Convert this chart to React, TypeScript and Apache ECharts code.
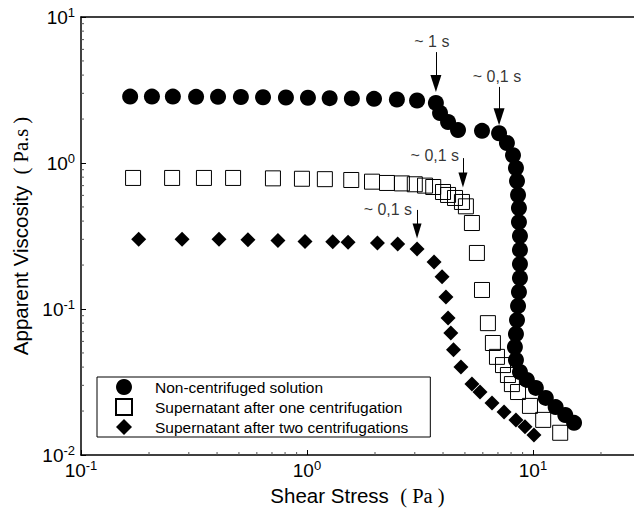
import React, { useEffect, useRef } from "react";
import * as echarts from "echarts";

const seriesNames = [
  "Non-centrifuged solution",
  "Supernatant after one centrifugation",
  "Supernatant after two centrifugations",
];

// [shear stress (Pa), apparent viscosity (Pa.s)]
const nonCentrifuged: number[][] = [
  [0.165, 2.85], [0.206, 2.85], [0.255, 2.85], [0.323, 2.84], [0.404, 2.84], [0.51, 2.83],
  [0.639, 2.82], [0.807, 2.81], [1.01, 2.8], [1.26, 2.78], [1.58, 2.77], [1.98, 2.75],
  [2.5, 2.72], [3.07, 2.68], [3.72, 2.58], [3.88, 2.2], [4.21, 1.91], [4.66, 1.68],
  [5.95, 1.66], [7.08, 1.6], [7.67, 1.37], [8.16, 1.13], [8.41, 0.924], [8.5, 0.753],
  [8.59, 0.604], [8.67, 0.492], [8.67, 0.394], [8.76, 0.316], [8.76, 0.254], [8.76, 0.203],
  [8.76, 0.163], [8.67, 0.131], [8.59, 0.105], [8.5, 0.084], [8.41, 0.0674], [8.32, 0.0549],
  [8.41, 0.0448], [8.76, 0.037], [9.4, 0.0327], [10.3, 0.0288], [11.4, 0.0246],
  [12.6, 0.0213], [13.9, 0.0188], [15.2, 0.0166],
];

const oneCentrifugation: number[][] = [
  [0.17, 0.79], [0.253, 0.79], [0.35, 0.79], [0.471, 0.79], [0.707, 0.785], [0.95, 0.78],
  [1.2, 0.775], [1.57, 0.765], [1.94, 0.745], [2.26, 0.73], [2.63, 0.725], [3.0, 0.715],
  [3.33, 0.7], [3.62, 0.685], [4.0, 0.633], [4.21, 0.604], [4.52, 0.576], [4.85, 0.541],
  [5.05, 0.505], [5.37, 0.388], [5.65, 0.242], [5.95, 0.135], [6.32, 0.08], [6.65, 0.0585],
  [6.93, 0.047], [7.37, 0.0413], [7.75, 0.0353], [8.07, 0.0306], [8.59, 0.027],
  [9.7, 0.0217], [11.1, 0.0174], [13.2, 0.0142],
];

const twoCentrifugations: number[][] = [
  [0.18, 0.3], [0.28, 0.3], [0.408, 0.3], [0.548, 0.298], [0.744, 0.295], [0.98, 0.29],
  [1.3, 0.289], [1.52, 0.287], [2.05, 0.283], [2.52, 0.279], [3.07, 0.258], [3.65, 0.21],
  [3.96, 0.166], [4.12, 0.121], [4.21, 0.0868], [4.33, 0.0685], [4.45, 0.0525],
  [4.8, 0.0401], [5.37, 0.0306], [5.83, 0.027], [6.59, 0.0227], [7.45, 0.0197],
  [8.41, 0.0174], [9.22, 0.0156], [10.1, 0.0137],
];

// annotation labels: [x, y, text]
const annotationLabels: [number, number, string][] = [
  [3.57, 6.75, "~ 1 s"],
  [6.93, 3.94, "~ 0,1 s"],
  [3.68, 1.12, "~ 0,1 s"],
  [2.28, 0.477, "~ 0,1 s"],
];
// arrows: [x, yStart, yHeadCentre]
const arrowsCircles: number[][] = [
  [3.72, 5.75, 3.5],
  [7.08, 3.32, 2.07],
];
const arrowsSquares: number[][] = [[4.9, 1.08, 0.766]];
const arrowsDiamonds: number[][] = [[3.07, 0.477, 0.342]];

const xMinor = [0.2, 0.3, 0.4, 0.5, 0.6, 0.7, 0.8, 0.9, 2, 3, 4, 5, 6, 7, 8, 9, 20];
const yMinor = [0.02, 0.03, 0.04, 0.05, 0.06, 0.07, 0.08, 0.09, 0.2, 0.3, 0.4, 0.5, 0.6, 0.7, 0.8, 0.9, 2, 3, 4, 5, 6, 7, 8, 9];

const X_MIN = 0.1;
const X_MAX = 28;
const Y_MIN = 0.01;
const Y_MAX = 10;

const SANS = "Liberation Sans, Arial, sans-serif";
const SERIF = "Liberation Serif, Times New Roman, serif";

function powLabel(v: number) {
  const l = Math.log10(v);
  if (Math.abs(l - Math.round(l)) > 1e-6) return "";
  return `{a|10}{b|${Math.round(l)}}`;
}

const labelRich = {
  a: { fontSize: 19, fontFamily: SANS, color: "#000" },
  b: { fontSize: 13, fontFamily: SANS, color: "#000", verticalAlign: "top", padding: [0, 0, 9, 0] },
};

function arrowLine(arr: number[][], big: boolean) {
  return {
    silent: true,
    symbol: ["none", "triangle"],
    symbolSize: big ? [11, 17] : [9, 15],
    lineStyle: { color: "#000", width: 1, type: "solid", opacity: 1 },
    itemStyle: { color: "#000", opacity: 1 },
    label: { show: false },
    emphasis: { disabled: true },
    data: arr.map((a) => [{ coord: [a[0], a[1]] }, { coord: [a[0], a[2]] }]),
  };
}

export default function App() {
  const ref = useRef<HTMLDivElement>(null);
  useEffect(() => {
    if (!ref.current) return;
    const chart = echarts.init(ref.current, undefined, { renderer: "svg" });
    const option: any = {
      animation: false,
      backgroundColor: "#fff",
      textStyle: { fontFamily: SANS },
      grid: { left: 81, right: 0, top: 17, bottom: 58, containLabel: false, outerBoundsMode: "none" },
      legend: {
        orient: "vertical",
        left: 97,
        top: 377,
        padding: [2, 22, 2, 18],
        itemGap: 3,
        itemWidth: 16,
        itemHeight: 16,
        borderColor: "#000",
        borderWidth: 1,
        borderRadius: 0,
        backgroundColor: "#fff",
        selectedMode: false,
        textStyle: { fontFamily: SANS, fontSize: 15.5, color: "#000", padding: [0, 0, 0, 18] },
        data: [
          { name: seriesNames[0], icon: "circle" },
          { name: seriesNames[1], icon: "rect" },
          { name: seriesNames[2], icon: "diamond" },
        ],
      },
      xAxis: [
        {
          type: "log",
          logBase: 10,
          min: X_MIN,
          max: X_MAX,
          name: "Shear Stress  {p|( Pa )}",
          nameLocation: "middle",
          nameGap: 30,
          nameTextStyle: {
            fontSize: 20.5,
            fontFamily: SANS,
            color: "#000",
            rich: { p: { fontSize: 20.5, fontFamily: SERIF, color: "#000" } },
          },
          axisLine: { show: true, lineStyle: { color: "#000", width: 1.5 } },
          axisTick: { show: true, inside: true, length: 5, lineStyle: { color: "#000" } },
          splitLine: { show: false },
          axisLabel: { formatter: powLabel, rich: labelRich, margin: 4, showMaxLabel: false },
        },
        {
          type: "log",
          logBase: 10,
          min: X_MIN,
          max: X_MAX,
          position: "top",
          axisLine: { show: true, onZero: false, lineStyle: { color: "#000", width: 1.5 } },
          axisTick: { show: false },
          axisLabel: { show: false },
          splitLine: { show: false },
        },
      ],
      yAxis: {
        type: "log",
        logBase: 10,
        min: Y_MIN,
        max: Y_MAX,
        name: "Apparent Viscosity  {p|( Pa.s )}",
        nameLocation: "middle",
        nameGap: 47,
        nameTextStyle: {
          fontSize: 20.5,
          fontFamily: SANS,
          color: "#000",
          rich: { p: { fontSize: 20.5, fontFamily: SERIF, color: "#000" } },
        },
        axisLine: { show: true, lineStyle: { color: "#000", width: 1.5 } },
        axisTick: { show: true, inside: true, length: 5, lineStyle: { color: "#000" } },
        splitLine: { show: false },
        axisLabel: { formatter: powLabel, rich: labelRich, margin: 6 },
      },
      series: [
        {
          name: seriesNames[1],
          type: "scatter",
          z: 2,
          symbol: "rect",
          symbolSize: 15,
          itemStyle: { color: "rgba(0,0,0,0)", borderColor: "#000", borderWidth: 1, opacity: 1 },
          data: oneCentrifugation,
          markLine: arrowLine(arrowsSquares, false),
        },
        {
          name: seriesNames[2],
          type: "scatter",
          z: 3,
          symbol: "diamond",
          symbolSize: 15,
          itemStyle: { color: "#000", opacity: 1 },
          data: twoCentrifugations,
          markLine: arrowLine(arrowsDiamonds, false),
        },
        {
          name: seriesNames[0],
          type: "scatter",
          z: 4,
          symbol: "circle",
          symbolSize: 16,
          itemStyle: { color: "#000", opacity: 1 },
          data: nonCentrifuged,
          markLine: arrowLine(arrowsCircles, true),
        },
        {
          name: "annotations",
          type: "scatter",
          z: 5,
          silent: true,
          symbol: "circle",
          symbolSize: 1,
          itemStyle: { color: "rgba(0,0,0,0)" },
          label: {
            show: true,
            position: "inside",
            color: "#000",
            fontSize: 16,
            fontFamily: SANS,
            formatter: (p: any) => p.value[2],
          },
          data: annotationLabels,
        },
        {
          name: "xMinorTicks",
          type: "custom",
          silent: true,
          data: xMinor.map((v) => [v, Y_MIN]),
          renderItem: (params: any, api: any) => {
            const p = api.coord([api.value(0), api.value(1)]);
            return {
              type: "line",
              shape: { x1: p[0], y1: p[1], x2: p[0], y2: p[1] - 3 },
              style: { stroke: "#555", lineWidth: 1 },
            };
          },
        },
        {
          name: "yMinorTicks",
          type: "custom",
          silent: true,
          data: yMinor.map((v) => [X_MIN, v]),
          renderItem: (params: any, api: any) => {
            const p = api.coord([api.value(0), api.value(1)]);
            return {
              type: "line",
              shape: { x1: p[0], y1: p[1], x2: p[0] + 3, y2: p[1] },
              style: { stroke: "#555", lineWidth: 1 },
            };
          },
        },
      ],
    };
    chart.setOption(option);
    return () => chart.dispose();
  }, []);
  return <div ref={ref} style={{ width: 634, height: 513, position: "absolute", left: 0, top: 0 }} />;
}
